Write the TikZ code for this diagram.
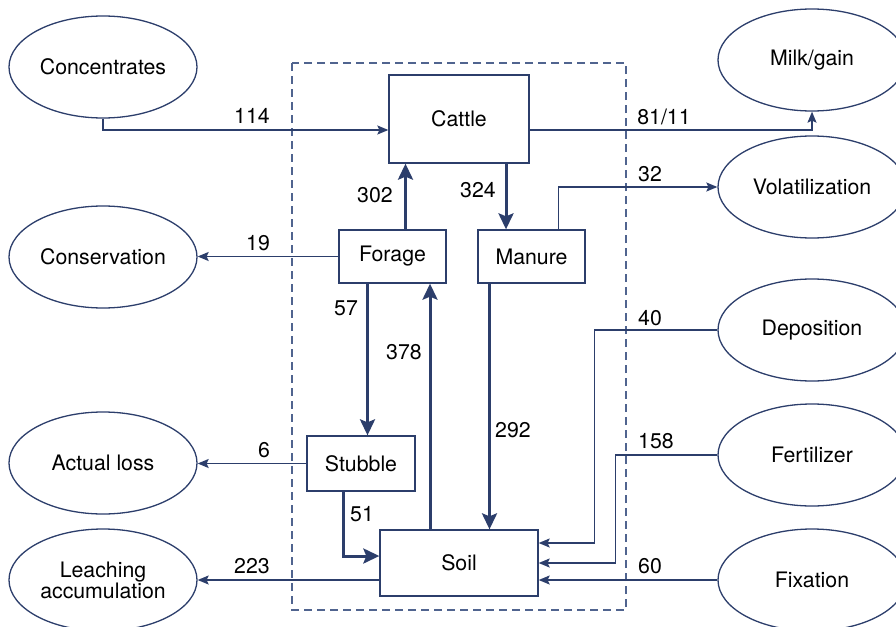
\documentclass[tikz,border=0pt]{standalone}
\usepackage{fontspec}
\setmainfont{TeX Gyre Heros}
\usetikzlibrary{arrows.meta, positioning, shapes.geometric}
\definecolor{navy}{HTML}{2C3E6B}
\definecolor{navylight}{HTML}{50648F}

\begin{document}
\begin{tikzpicture}[
    x=1pt, y=-1pt,
    every node/.style={font=\fontsize{21.3}{24}\selectfont},
    arr/.style={-{Stealth[length=11pt, width=9pt, inset=2pt]}, line width=1.4pt, navy},
    thk/.style={-{Stealth[length=16pt, width=15pt, inset=3pt]}, line width=3pt, navy},
    flow/.style={rectangle, draw=navy, line width=1.3pt, fill=white, inner sep=0pt},
    pool/.style={ellipse, draw=navy, line width=1.3pt, minimum width=188pt,
                 minimum height=102pt, inner sep=0pt, align=center},
    num/.style={inner sep=0pt}
  ]
  \useasboundingbox (0,0) rectangle (896,626);
  \clip (0,0) rectangle (896,626);

  % system boundary
  \draw[navylight, line width=1.3pt, dash pattern=on 8pt off 5pt] (292,63) rectangle (626,610);

  % pools inside the farm
  \node[flow, minimum width=140pt, minimum height=88pt] (cattle) at (459,119) {Cattle};
  \node[flow, minimum width=107pt, minimum height=53pt] (forage) at (392.5,256.5) {Forage};
  \node[flow, minimum width=107pt, minimum height=53pt] (manure) at (531.5,256.5) {Manure};
  \node[flow, minimum width=108pt, minimum height=55pt] (stubble) at (361,463.5) {Stubble};
  \node[flow, minimum width=158pt, minimum height=66pt] (soil) at (459,563) {Soil};

  % outside the farm
  \node[pool] (conc) at (103,67) {Concentrates};
  \node[pool] (cons) at (103,257) {Conservation};
  \node[pool] (loss) at (103,463) {Actual loss};
  \node[pool] (leach) at (103,580) {Leaching\\[-3pt]accumulation};
  \node[pool] (milk) at (812,60) {Milk/gain};
  \node[pool] (volat) at (812,187) {Volatilization};
  \node[pool] (depo) at (812,330) {Deposition};
  \node[pool] (fert) at (812,455) {Fertilizer};
  \node[pool] (fix) at (812,580) {Fixation};

  % flows
  \draw[arr] (conc.south) |- ([yshift=-11pt]cattle.west);
  \draw[arr] ([yshift=-11pt]cattle.east) -| (milk.south);
  \draw[thk] ([xshift=13pt]forage.north) -- ([xshift=13pt]forage.north |- cattle.south);
  \draw[thk] ([xshift=47pt]cattle.south) -- ([xshift=47pt]cattle.south |- manure.north);
  \draw[arr] ([xshift=27pt]manure.north) |- (volat.west);
  \draw[arr] (forage.west) -- (forage.west -| cons.east);
  \draw[thk] ([xshift=-25pt]forage.south) -- ([xshift=-25pt]forage.south |- stubble.north);
  \draw[thk] ([xshift=-29pt]soil.north) -- ([xshift=-29pt]soil.north |- forage.south);
  \draw[thk] ([xshift=-42pt]manure.south) -- ([xshift=-42pt]manure.south |- soil.north);
  \draw[arr] (stubble.west) -- (stubble.west -| loss.east);
  \draw[thk] ([xshift=-18pt]stubble.south) |- ([yshift=7pt]soil.west);
  \draw[arr] ([yshift=-17pt]soil.west) -- ([yshift=-17pt]soil.west -| leach.east);
  \draw[arr] (depo.west) -| ([xshift=56pt, yshift=20pt]soil.east) -- ([yshift=20pt]soil.east);
  \draw[arr] (fert.west) -| ([xshift=77pt]soil.east) -- (soil.east);
  \draw[arr] ([yshift=-17pt]soil.east -| fix.west) -- ([yshift=-17pt]soil.east);

  % flow values
  \node[num] (n114) at (252,116) {114};
  \node[num] (n8111) at (664,117) {81/11};
  \node[num] (n302) at (375,195) {302};
  \node[num] (n324) at (478,190) {324};
  \node[num] (n32) at (650,174) {32};
  \node[num] (n19) at (258,243) {19};
  \node[num] (n57) at (346,308) {57};
  \node[num] (n378) at (404,352) {378};
  \node[num] (n292) at (513,430) {292};
  \node[num] (n6) at (264,450) {6};
  \node[num] (n51) at (362,514) {51};
  \node[num] (n223) at (252,566) {223};
  \node[num] (n40) at (650,318) {40};
  \node[num] (n158) at (656,441) {158};
  \node[num] (n60) at (650,566) {60};
\end{tikzpicture}
\end{document}
